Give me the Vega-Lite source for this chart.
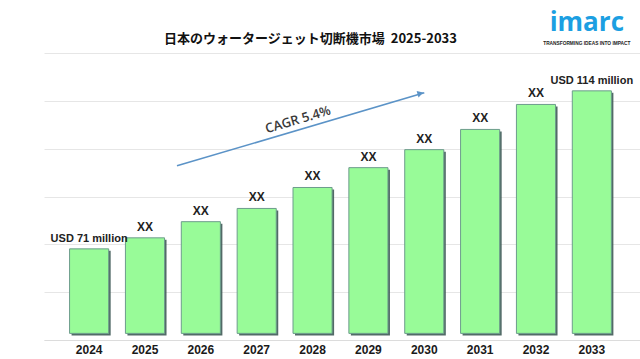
{
  "$schema": "https://vega.github.io/schema/vega-lite/v6.json",
  "width": 596,
  "height": 287,
  "autosize": "none",
  "padding": {"left": 44, "top": 53, "right": 0, "bottom": 19},
  "background": "white",
  "config": {"view": {"stroke": null}},
  "resolve": {"scale": {"x": "independent"}, "axis": {"x": "independent"}},
  "layer": [
    {
      "data": {
        "values": [
          {"year": "2024", "value": 71.0, "label": "USD 71 million"},
          {"year": "2025", "value": 74.0, "label": "XX"},
          {"year": "2026", "value": 78.4, "label": "XX"},
          {"year": "2027", "value": 82.0, "label": "XX"},
          {"year": "2028", "value": 87.7, "label": "XX"},
          {"year": "2029", "value": 93.1, "label": "XX"},
          {"year": "2030", "value": 98.0, "label": "XX"},
          {"year": "2031", "value": 103.5, "label": "XX"},
          {"year": "2032", "value": 110.3, "label": "XX"},
          {"year": "2033", "value": 114.0, "label": "USD 114 million"}
        ]
      },
      "encoding": {
        "x": {
          "field": "year",
          "type": "nominal",
          "scale": {"paddingInner": 0.3, "paddingOuter": 0.485, "align": 0.472},
          "axis": {
            "title": null,
            "labelAngle": 0,
            "labelFont": "Liberation Sans",
            "labelFontSize": 12,
            "labelFontWeight": "bold",
            "labelColor": "#1a1a1a",
            "labelPadding": 4,
            "ticks": false,
            "domainColor": "#dcdcdc",
            "domainWidth": 1
          }
        },
        "y": {
          "field": "value",
          "type": "quantitative",
          "scale": {"domain": [46.2, 124.3], "zero": false, "nice": false},
          "axis": {
            "title": null,
            "values": [46.2, 59.22, 72.23, 85.25, 98.27, 111.28, 124.3],
            "labels": false,
            "ticks": false,
            "domain": false,
            "grid": true,
            "gridColor": "#e6e6e6",
            "gridWidth": 1
          }
        }
      },
      "layer": [
        {
          "mark": {"type": "bar", "color": "#34504c", "opacity": 0.85, "xOffset": 2, "yOffset": 2, "x2Offset": 2, "y2Offset": 2},
          "encoding": {"y2": {"datum": 48}}
        },
        {
          "mark": {"type": "bar", "fill": "#98FB98", "stroke": "#6d9c8c", "strokeWidth": 1},
          "encoding": {"y2": {"datum": 48}}
        },
        {
          "mark": {"type": "text", "font": "Liberation Sans", "fontWeight": "bold", "color": "#222222", "baseline": "alphabetic", "dy": -7},
          "encoding": {
            "text": {"field": "label"},
            "size": {"condition": {"test": "datum.label == 'XX'", "value": 12}, "value": 11}
          }
        }
      ]
    },
    {
      "data": {"values": [{"x1": 2025.573, "y1": 93.59, "x2": 2030.0, "y2": 113.5}]},
      "mark": {"type": "rule", "color": "#5b93c7", "strokeWidth": 1.6},
      "encoding": {
        "x": {"field": "x1", "type": "quantitative", "scale": {"domain": [2023.192, 2033.862], "nice": false, "zero": false}, "axis": null},
        "x2": {"field": "x2"},
        "y": {
          "field": "y1", "type": "quantitative",
          "scale": {"domain": [46.2, 124.3], "zero": false, "nice": false},
          "axis": {"title": null, "values": [46.2, 59.22, 72.23, 85.25, 98.27, 111.28, 124.3], "labels": false, "ticks": false, "domain": false, "grid": true, "gridColor": "#e6e6e6", "gridWidth": 1}
        },
        "y2": {"field": "y2"}
      }
    },
    {
      "data": {"values": [{"x": 2029.93, "y": 113.3}]},
      "mark": {"type": "point", "shape": "triangle-right", "filled": true, "color": "#5b93c7", "size": 45, "angle": 343.4, "opacity": 1},
      "encoding": {
        "x": {"field": "x", "type": "quantitative", "scale": {"domain": [2023.192, 2033.862], "nice": false, "zero": false}, "axis": null},
        "y": {
          "field": "y", "type": "quantitative",
          "scale": {"domain": [46.2, 124.3], "zero": false, "nice": false},
          "axis": {"title": null, "values": [46.2, 59.22, 72.23, 85.25, 98.27, 111.28, 124.3], "labels": false, "ticks": false, "domain": false, "grid": true, "gridColor": "#e6e6e6", "gridWidth": 1}
        }
      }
    },
    {
      "data": {
        "values": [
          {"x": 2027.74, "y": 106.1, "label": "CAGR 5.4%"}
        ]
      },
      "mark": {"type": "text", "font": "Open Sans", "fontSize": 13, "fontWeight": 600, "color": "#3a3a3a", "angle": 343.4, "baseline": "middle", "align": "center"},
      "encoding": {
        "x": {"field": "x", "type": "quantitative", "scale": {"domain": [2023.192, 2033.862], "nice": false, "zero": false}, "axis": null},
        "y": {
          "field": "y", "type": "quantitative",
          "scale": {"domain": [46.2, 124.3], "zero": false, "nice": false},
          "axis": {"title": null, "values": [46.2, 59.22, 72.23, 85.25, 98.27, 111.28, 124.3], "labels": false, "ticks": false, "domain": false, "grid": true, "gridColor": "#e6e6e6", "gridWidth": 1}
        },
        "text": {"field": "label"}
      }
    },
    {
      "data": {
        "values": [
          {"x": 2027.963, "y": 127.04, "label": "日本のウォータージェット切断機市場\u00a0\u00a02025-2033"}
        ]
      },
      "mark": {"type": "text", "font": "Noto Sans CJK JP", "fontSize": 13, "fontWeight": "bold", "color": "#111111", "baseline": "alphabetic", "align": "center"},
      "encoding": {
        "x": {"field": "x", "type": "quantitative", "scale": {"domain": [2023.192, 2033.862], "nice": false, "zero": false}, "axis": null},
        "y": {
          "field": "y", "type": "quantitative",
          "scale": {"domain": [46.2, 124.3], "zero": false, "nice": false},
          "axis": {"title": null, "values": [46.2, 59.22, 72.23, 85.25, 98.27, 111.28, 124.3], "labels": false, "ticks": false, "domain": false, "grid": true, "gridColor": "#e6e6e6", "gridWidth": 1}
        },
        "text": {"field": "label"}
      }
    },
    {
      "data": {
        "values": [
          {"x": 2032.91, "y": 130.4, "label": "imarc"}
        ]
      },
      "mark": {"type": "text", "font": "Open Sans", "fontSize": 26, "fontWeight": "bold", "color": "#1c9fe2", "baseline": "alphabetic", "align": "center"},
      "encoding": {
        "x": {"field": "x", "type": "quantitative", "scale": {"domain": [2023.192, 2033.862], "nice": false, "zero": false}, "axis": null},
        "y": {
          "field": "y", "type": "quantitative",
          "scale": {"domain": [46.2, 124.3], "zero": false, "nice": false},
          "axis": {"title": null, "values": [46.2, 59.22, 72.23, 85.25, 98.27, 111.28, 124.3], "labels": false, "ticks": false, "domain": false, "grid": true, "gridColor": "#e6e6e6", "gridWidth": 1}
        },
        "text": {"field": "label"}
      }
    },
    {
      "data": {
        "values": [
          {"x": 2032.91, "y": 126.4, "label": "TRANSFORMING IDEAS INTO IMPACT"}
        ]
      },
      "mark": {"type": "text", "font": "Liberation Sans", "fontSize": 4.8, "fontWeight": "bold", "color": "#222222", "baseline": "alphabetic", "align": "center"},
      "encoding": {
        "x": {"field": "x", "type": "quantitative", "scale": {"domain": [2023.192, 2033.862], "nice": false, "zero": false}, "axis": null},
        "y": {
          "field": "y", "type": "quantitative",
          "scale": {"domain": [46.2, 124.3], "zero": false, "nice": false},
          "axis": {"title": null, "values": [46.2, 59.22, 72.23, 85.25, 98.27, 111.28, 124.3], "labels": false, "ticks": false, "domain": false, "grid": true, "gridColor": "#e6e6e6", "gridWidth": 1}
        },
        "text": {"field": "label"}
      }
    }
  ]
}
